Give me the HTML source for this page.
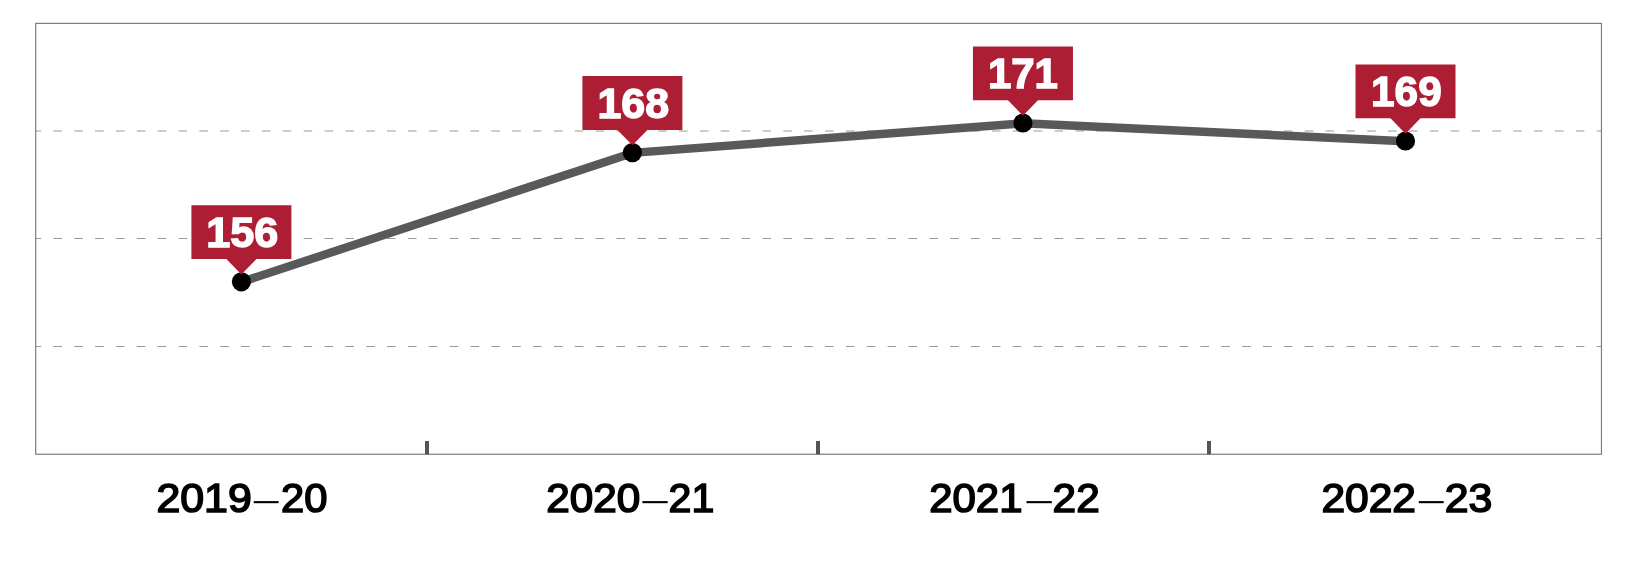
<!DOCTYPE html>
<html><head><meta charset="utf-8"><style>
html,body{margin:0;padding:0;background:#fff;}
body{width:1644px;height:569px;overflow:hidden;}
svg{display:block;will-change:transform;font-family:"Liberation Sans", sans-serif;}
</style></head><body>
<svg width="1644" height="569" viewBox="0 0 1644 569">
<defs><clipPath id="c"><rect x="35.7" y="0" width="1565.75" height="569"/></clipPath></defs>
<line x1="32.55" y1="131.00" x2="1601.45" y2="131.00" stroke="#999999" stroke-width="1.1" stroke-dasharray="8.6 12.255" clip-path="url(#c)"/>
<line x1="32.55" y1="238.50" x2="1601.45" y2="238.50" stroke="#999999" stroke-width="1.1" stroke-dasharray="8.6 12.255" clip-path="url(#c)"/>
<line x1="32.55" y1="346.50" x2="1601.45" y2="346.50" stroke="#999999" stroke-width="1.1" stroke-dasharray="8.6 12.255" clip-path="url(#c)"/>
<rect x="35.7" y="23.4" width="1565.75" height="430.85" fill="none" stroke="#7d7d7d" stroke-width="1.2"/>
<rect x="425" y="441" width="4" height="13.25" fill="#555"/>
<rect x="816" y="441" width="4" height="13.25" fill="#555"/>
<rect x="1207" y="441" width="4" height="13.25" fill="#555"/>
<polyline points="241.4,282.1 632.4,152.9 1022.95,123.3 1405.5,141.3" fill="none" stroke="#58595b" stroke-width="8.4" stroke-linejoin="round"/>
<circle cx="241.4" cy="281.8" r="9.6" fill="#000"/>
<path d="M191.40,205.20 H291.40 V259.10 H256.40 L241.40,274.50 L226.40,259.10 H191.40 Z" fill="#ad1e34"/>
<text x="206.30" y="247.00" font-size="43" font-weight="bold" fill="#fff" stroke="#fff" stroke-width="1.4" textLength="72.11" lengthAdjust="spacingAndGlyphs">156</text>
<circle cx="632.4" cy="152.6" r="9.6" fill="#000"/>
<path d="M582.40,76.00 H682.40 V129.90 H647.40 L632.40,145.30 L617.40,129.90 H582.40 Z" fill="#ad1e34"/>
<text x="597.50" y="117.80" font-size="43" font-weight="bold" fill="#fff" stroke="#fff" stroke-width="1.4" textLength="71.61" lengthAdjust="spacingAndGlyphs">168</text>
<circle cx="1022.95" cy="123.0" r="9.6" fill="#000"/>
<path d="M972.95,46.40 H1072.95 V100.30 H1037.95 L1022.95,115.70 L1007.95,100.30 H972.95 Z" fill="#ad1e34"/>
<text x="987.90" y="88.20" font-size="43" font-weight="bold" fill="#fff" stroke="#fff" stroke-width="1.4" textLength="70.03" lengthAdjust="spacingAndGlyphs">171</text>
<circle cx="1405.5" cy="141.0" r="9.6" fill="#000"/>
<path d="M1355.50,64.40 H1455.50 V118.30 H1420.50 L1405.50,133.70 L1390.50,118.30 H1355.50 Z" fill="#ad1e34"/>
<text x="1371.10" y="106.20" font-size="43" font-weight="bold" fill="#fff" stroke="#fff" stroke-width="1.4" textLength="70.58" lengthAdjust="spacingAndGlyphs">169</text>
<text x="156.40" y="512.4" font-size="40.6" font-weight="normal" fill="#000" stroke="#000" stroke-width="1.6" textLength="95.36" lengthAdjust="spacingAndGlyphs">2019</text>
<rect x="253.70" y="501.1" width="24.90" height="2.1" fill="#000"/>
<text x="281.00" y="512.4" font-size="40.6" font-weight="normal" fill="#000" stroke="#000" stroke-width="1.6" textLength="46.44" lengthAdjust="spacingAndGlyphs">20</text>
<text x="546.20" y="512.4" font-size="40.6" font-weight="normal" fill="#000" stroke="#000" stroke-width="1.6" textLength="94.10" lengthAdjust="spacingAndGlyphs">2020</text>
<rect x="642.40" y="501.1" width="25.30" height="2.1" fill="#000"/>
<text x="668.60" y="512.4" font-size="40.6" font-weight="normal" fill="#000" stroke="#000" stroke-width="1.6" textLength="45.71" lengthAdjust="spacingAndGlyphs">21</text>
<text x="929.20" y="512.4" font-size="40.6" font-weight="normal" fill="#000" stroke="#000" stroke-width="1.6" textLength="93.32" lengthAdjust="spacingAndGlyphs">2021</text>
<rect x="1026.50" y="501.1" width="25.30" height="2.1" fill="#000"/>
<text x="1052.60" y="512.4" font-size="40.6" font-weight="normal" fill="#000" stroke="#000" stroke-width="1.6" textLength="47.10" lengthAdjust="spacingAndGlyphs">22</text>
<text x="1321.40" y="512.4" font-size="40.6" font-weight="normal" fill="#000" stroke="#000" stroke-width="1.6" textLength="94.52" lengthAdjust="spacingAndGlyphs">2022</text>
<rect x="1418.80" y="501.1" width="24.90" height="2.1" fill="#000"/>
<text x="1444.80" y="512.4" font-size="40.6" font-weight="normal" fill="#000" stroke="#000" stroke-width="1.6" textLength="47.66" lengthAdjust="spacingAndGlyphs">23</text>
</svg>
</body></html>
